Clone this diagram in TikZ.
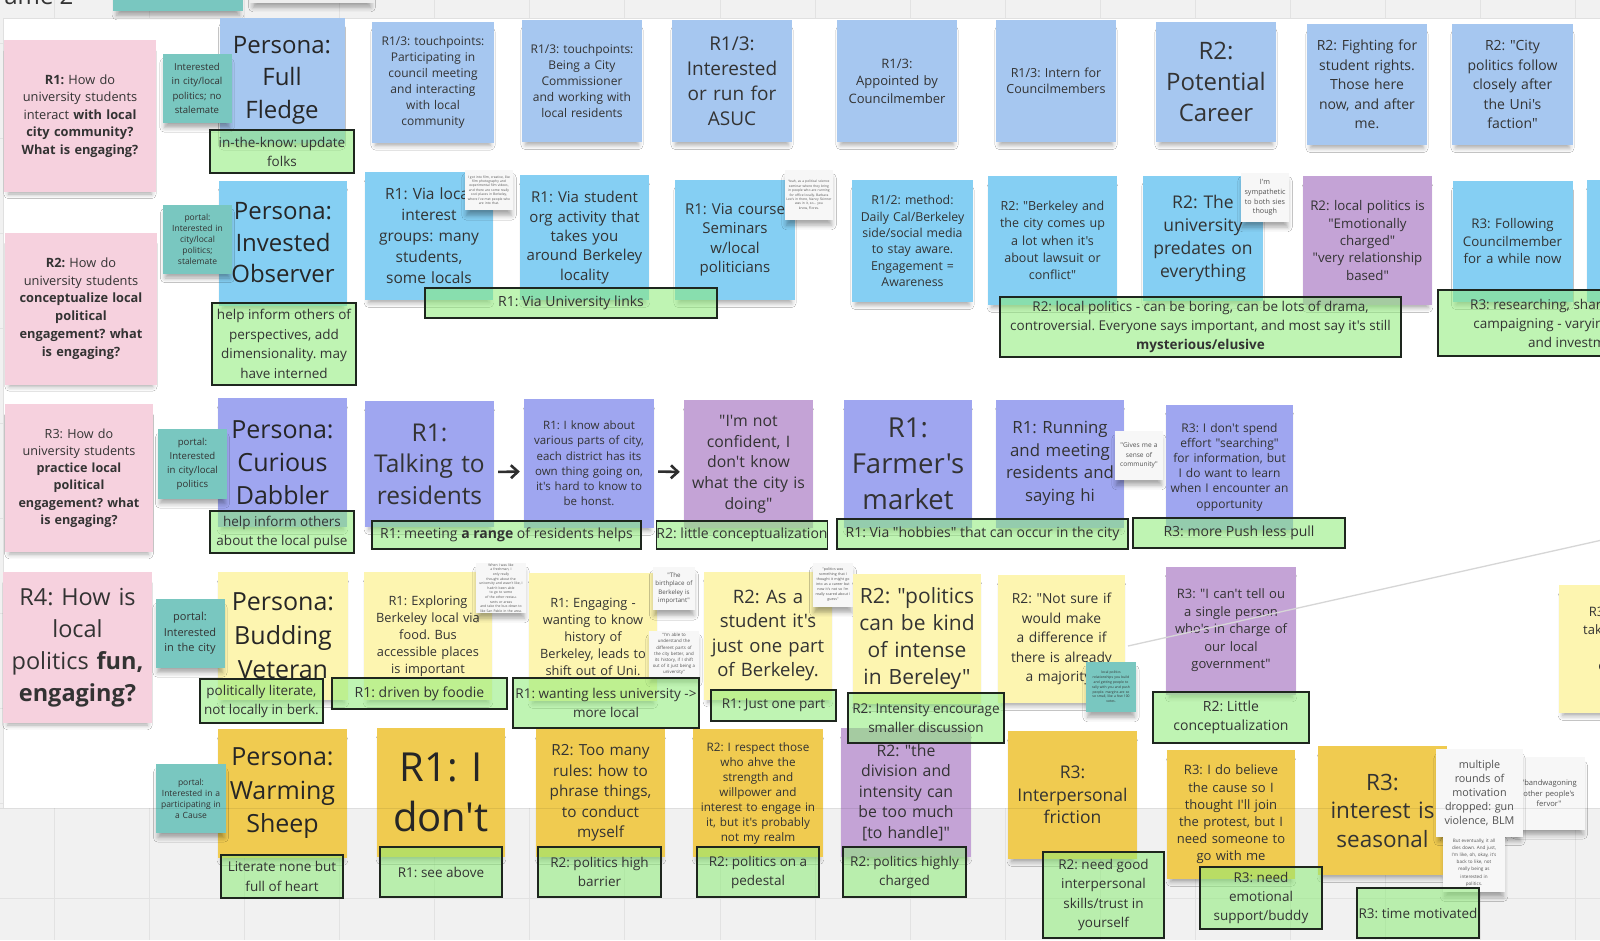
\documentclass[tikz,border=0pt]{standalone}
\usepackage{fontspec}
\setmainfont{Open Sans}[Ligatures=TeXOff]
\usepackage{tikz}
\usetikzlibrary{positioning,shadows.blur,arrows.meta}
\definecolor{board}{RGB}{241,241,241}
\definecolor{gridc}{RGB}{226,226,226}
\definecolor{ink}{RGB}{51,51,51}
\definecolor{pinkq}{RGB}{246,209,222}
\definecolor{tealp}{RGB}{121,199,192}
\definecolor{bluetop}{RGB}{166,199,240}
\definecolor{cyanmid}{RGB}{133,207,243}
\definecolor{notev}{RGB}{159,166,240}
\definecolor{purp}{RGB}{196,163,214}
\definecolor{lemon}{RGB}{253,245,176}
\definecolor{mustard}{RGB}{240,203,80}
\definecolor{paper}{RGB}{247,247,247}
\definecolor{greenl}{RGB}{140,236,118}
\definecolor{edgec}{RGB}{30,38,30}
\frenchspacing

\begin{document}
\begin{tikzpicture}[
    x=1pt, y=-1pt,
    sticky/.style={rectangle, inner sep=0pt, align=center, text=ink,
        minimum width=128pt, minimum height=128pt, text width=120pt,
        blur shadow={shadow xshift=0pt, shadow yshift=-7pt, shadow scale=0.94,
            shadow opacity=35, shadow blur radius=5pt}},
    question/.style={sticky, fill=pinkq, minimum width=152pt, minimum height=152pt, text width=148pt},
    portal/.style={sticky, fill=tealp, minimum width=69pt, minimum height=69pt, text width=66pt},
    aside/.style={sticky, fill=paper, minimum width=48pt, minimum height=48pt, text width=46pt, text=ink!85},
    persona/.style={sticky, text=black!85},
    finding/.style={rectangle, draw=edgec, line width=1.8pt, fill=greenl, fill opacity=0.55,
        text opacity=1, inner sep=0pt, align=center, text=ink},
    fs/.style 2 args={font=\fontsize{#1}{#2}\selectfont},
    flow/.style={-{Straight Barb[length=7pt,width=13pt]}, line width=2.6pt, draw=ink!90!black,
        shorten <=4pt, shorten >=4pt}
]
\useasboundingbox (0,0) rectangle (1600,940);
\clip (0,0) rectangle (1600,940);
\fill[board] (0,0) rectangle (1600,940);
\foreach \gx in {54,149.1,...,1650}
    \draw[gridc] (\gx,0) -- (\gx,940);
\foreach \gy in {898,803,...,0}
    \draw[gridc] (0,\gy) -- (1600,\gy);
\fill[white] (3,18) rectangle (1620,808);
\draw[black!12] (3,808) -- (3,18) -- (1620,18);

\node[fs={24}{28}, text=ink, anchor=base east] (frametitle) at (77,4) {Frame 2};
\node[sticky, fill=tealp, minimum width=130pt, minimum height=80pt] (topteal) at (178,-29) {};
\node[sticky, fill=black!7, minimum width=125pt, minimum height=80pt] (topnote) at (312,-37) {};

\node[question, fs={12.8}{17.6}] (rq1) at (80,116) {\textbf{R1:} How do\\university students\\interact \textbf{with local}\\\textbf{city community?}\\\textbf{What is engaging?}};
\node[persona, fill=bluetop, minimum width=125pt, minimum height=125pt, fs={24}{32.5}] (pe1) at (282,80) {Persona:\\Full\\Fledge};
\node[portal, fs={9.6}{14.5}] (po1) at (197,88.5) {Interested\\in city/local\\politics; no\\stalemate};
\node[sticky, fill=bluetop, minimum width=122pt, minimum height=121pt, fs={12}{16}] (tp1) at (433,82) {R1/3: touchpoints:\\Participating in\\council meeting\\and interacting\\with local\\community};
\node[sticky, fill=bluetop, minimum width=120pt, minimum height=122pt, fs={12}{16}] (tp2) at (582,81) {R1/3: touchpoints:\\Being a City\\Commissioner\\and working with\\local residents};
\node[sticky, fill=bluetop, minimum width=114pt, minimum height=122pt, fs={19}{25}] (tp3) at (732,81) {R1/3:\\Interested\\or run for\\ASUC};
\node[sticky, fill=bluetop, minimum width=120pt, minimum height=122pt, fs={13}{17.5}] (tp4) at (897,81) {R1/3:\\Appointed by\\Councilmember};
\node[sticky, fill=bluetop, minimum width=119pt, minimum height=122pt, fs={12.5}{16.5}] (tp5) at (1056,81) {R1/3: Intern for\\Councilmembers};
\node[sticky, fill=bluetop, minimum width=120pt, minimum height=120pt, fs={24}{31}] (tp6) at (1216,82) {R2:\\Potential\\Career};
\node[sticky, fill=bluetop, minimum width=120pt, minimum height=121pt, fs={14}{19.5}] (tp7) at (1367,84.5) {R2: Fighting for\\student rights.\\Those here\\now, and after\\me.};
\node[sticky, fill=bluetop, minimum width=121pt, minimum height=121pt, fs={14}{19.5}] (tp8) at (1512.5,84.5) {R2: "City\\politics follow\\closely after\\the Uni's\\faction"};

\node[question, fs={12.8}{17.8}] (rq2) at (81,308.5) {\textbf{R2:} How do\\university students\\\textbf{conceptualize local}\\\textbf{political}\\\textbf{engagement? what}\\\textbf{is engaging?}};
\node[persona, fill=cyanmid, minimum height=125pt, fs={24}{31.5}] (pe2) at (283,243) {Persona:\\Invested\\Observer};
\node[portal, fs={8.5}{11}] (po2) at (197.5,239) {portal:\\Interested in\\city/local\\politics;\\stalemate};
\node[sticky, fill=cyanmid, fs={15.5}{21}] (ch1) at (429,236) {R1: Via local\\interest\\groups: many\\students,\\some locals};
\node[aside, minimum height=40pt, fs={3.3}{4.4}] (as1) at (489,190) {I got into film, creative, like\\film photography and\\experimental film videos,\\and there are some really\\cool places in Berkeley,\\where I've met people who\\are into that.};
\node[sticky, fill=cyanmid, minimum width=129pt, minimum height=125pt, fs={15}{19.3}] (ch2) at (584.5,237.5) {R1: Via student\\org activity that\\takes you\\around Berkeley\\locality};
\node[sticky, fill=cyanmid, minimum width=118pt, minimum height=120pt, fs={15}{19.5}] (ch3) at (735,240) {R1: Via course\\Seminars\\w/local\\politicians};
\node[aside, minimum height=50pt, fs={3.3}{4.4}] (as2) at (809,195) {Yeah, as a political science\\seminar where they bring\\in people who are running\\for office locally. Barbara\\Lee's in there, Nancy Skinner\\was in it, so... you\\know, Flores.};
\node[sticky, fill=cyanmid, minimum width=121pt, minimum height=122pt, fs={12.3}{16.4}] (ch4) at (912.5,241) {R1/2: method:\\Daily Cal/Berkeley\\side/social media\\to stay aware.\\Engagement =\\Awareness};
\node[sticky, fill=cyanmid, minimum width=129pt, minimum height=129pt, fs={12.5}{17.3}] (ch5) at (1052.5,240.5) {R2: "Berkeley and\\the city comes up\\a lot when it's\\about lawsuit or\\conflict"};
\node[sticky, fill=cyanmid, minimum width=120pt, minimum height=125pt, fs={17.5}{23}] (ch6) at (1203,238) {R2: The\\university\\predates on\\everything};
\node[aside, minimum height=49pt, fs={7.2}{9.6}] (as3) at (1265,197.5) {I'm\\sympathetic\\to both sies\\though};
\node[sticky, fill=purp, minimum width=129pt, minimum height=129pt, fs={13.3}{17.3}] (pu1) at (1367.5,240.5) {R2: local politics is\\"Emotionally\\charged"\\"very relationship\\based"};
\node[sticky, fill=cyanmid, minimum width=119pt, minimum height=121pt, fs={13.3}{17.5}] (ch7) at (1512.5,241.5) {R3: Following\\Councilmember\\for a while now};
\node[sticky, fill=cyanmid, minimum height=122pt] (ch8) at (1651,241) {};

\node[question, minimum width=148pt, minimum height=148pt, fs={12.6}{17.2}] (rq3) at (79,478) {R3: How do\\university students\\\textbf{practice local}\\\textbf{political}\\\textbf{engagement? what}\\\textbf{is engaging?}};
\node[persona, fill=notev, minimum width=129pt, minimum height=129pt, fs={25}{33}] (pe3) at (282.5,462.5) {Persona:\\Curious\\Dabbler};
\node[portal, minimum height=70pt, fs={9.6}{14}] (po3) at (192.5,464) {portal:\\Interested\\in city/local\\politics};
\node[sticky, fill=notev, minimum width=129pt, minimum height=126pt, fs={24.5}{31.5}] (ve1) at (429.5,464) {R1:\\Talking to\\residents};
\node[sticky, fill=notev, minimum width=130pt, minimum height=129pt, fs={11.5}{15.2}] (ve2) at (589,463.5) {R1: I know about\\various parts of city,\\each district has its\\own thing going on,\\it's hard to know to\\be honst.};
\node[sticky, fill=purp, minimum width=129pt, minimum height=128pt, fs={15.8}{20.7}] (pu2) at (748.5,464) {"I'm not\\confident, I\\don't know\\what the city is\\doing"};
\node[sticky, fill=notev, fs={27.5}{36}] (ve3) at (908,464) {R1:\\Farmer's\\market};
\node[sticky, fill=notev, fs={16.8}{22.5}] (ve4) at (1060,463.5) {R1: Running\\and meeting\\residents and\\saying hi};
\node[aside, minimum height=49pt, fs={6.6}{9.5}] (as4) at (1139,455.5) {"Gives me a\\sense of\\community"};
\node[sticky, fill=notev, minimum width=127pt, minimum height=125pt, fs={12}{15.2}] (ve5) at (1229.5,467) {R3: I don't spend\\effort "searching"\\for information, but\\I do want to learn\\when I encounter an\\opportunity};

\node[question, minimum width=149pt, minimum height=151pt, fs={23.5}{32}] (rq4) at (77.5,647.5) {R4: How is\\local\\politics \textbf{fun,}\\\textbf{engaging?}};
\node[persona, fill=lemon, minimum width=130pt, fs={25}{34}] (ye1) at (283,636) {Persona:\\Budding\\Veteran};
\node[portal, fs={11}{15.5}] (po4) at (190,633.5) {portal:\\Interested\\in the city};
\node[sticky, fill=lemon, fs={12.8}{17}] (ye2) at (428,636) {R1: Exploring\\Berkeley local via\\food. Bus\\accessible places\\is important};
\node[aside, minimum width=50pt, minimum height=50pt, fs={3.4}{4.6}] (as5) at (501,588) {When I was like a freshman, I\\only really thought about the\\university and wasn't like, I\\hadn't been able to go to some\\of the other restaurants or areas\\and take the bus down to\\like San Pablo in the area.};
\node[sticky, fill=lemon, fs={12.8}{17}] (ye3) at (593,637) {R1: Engaging -\\wanting to know\\history of\\Berkeley, leads to\\shift out of Uni.};
\node[aside, minimum width=42pt, minimum height=43pt, text width=42pt, fs={6.2}{8.5}] (as6) at (674,588.5) {"The\\birthplace of\\Berkeley is\\important"};
\node[aside, minimum width=50pt, minimum height=46pt, fs={4.4}{6.1}] (as7) at (674,654) {"I'm able to\\understand the\\different parts of\\the city better, and\\its history, if I shift\\out of it just being a\\university"};
\node[sticky, fill=lemon, fs={18.5}{24.5}] (ye4) at (768,635.5) {R2: As a\\student it's\\just one part\\of Berkeley.};
\node[aside, minimum width=40pt, minimum height=44pt, text width=40pt, fs={3.6}{5}] (as8) at (833,585) {"politics was\\something that I\\thought it might go\\into as a career but\\now it's not so I'm\\really scared about I\\guess"};
\node[sticky, fill=lemon, minimum height=130pt, fs={21}{27}] (ye5) at (917,639) {R2: "politics\\can be kind\\of intense\\in Bereley"};
\node[sticky, fill=lemon, minimum width=127pt, fs={13.8}{19.5}] (ye6) at (1061.5,639) {R2: "Not sure if\\would make\\a difference if\\there is already\\a majority"};
\node[portal, minimum width=50pt, minimum height=50pt, text width=48pt, fs={3.4}{4.8}] (po5) at (1111,687) {local politics\\relationships you build\\and getting people to\\rally with you and push\\people. margins are so\\so small, like a few 100\\votes.};
\node[sticky, fill=purp, minimum width=130pt, fs={13}{17.5}] (pu3) at (1231,630.5) {R3: "I can't tell ou\\a single person\\who's in charge of\\our local\\government"};
\node[sticky, fill=lemon, fs={13}{18}] (ye7) at (1623,649) {R3: I would\\take a bigger\\part if I\\can find\\things};

\node[persona, fill=mustard, minimum width=129pt, minimum height=129pt, fs={25}{33.5}] (mu1) at (282.5,793.5) {Persona:\\Warming\\Sheep};
\node[portal, minimum width=70pt, fs={8.5}{11}] (po6) at (191,798.5) {portal:\\Interested in a\\participating in\\a Cause};
\node[persona, fill=mustard, minimum height=129pt, fs={40}{50}] (mu2) at (441,792.5) {R1: I\\don't};
\node[sticky, fill=mustard, minimum width=129pt, fs={15.3}{20.5}] (mu3) at (600.5,793) {R2: Too many\\rules: how to\\phrase things,\\to conduct\\myself};
\node[sticky, fill=mustard, minimum width=130pt, fs={11.7}{15}] (mu4) at (758,793) {R2: I respect those\\who ahve the\\strength and\\willpower and\\interest to engage in\\it, but it's probably\\not my realm};
\node[sticky, fill=purp, minimum width=130pt, minimum height=129pt, fs={15.8}{20.5}] (pu4) at (906,792.5) {R2: "the\\division and\\intensity can\\be too much\\{}[to handle]"};
\node[sticky, fill=mustard, minimum width=129pt, fs={17.5}{22.5}] (mu5) at (1072.5,795) {R3:\\Interpersonal\\friction};
\node[sticky, fill=mustard, minimum height=129pt, fs={13}{17.2}] (mu6) at (1231,814.5) {R3: I do believe\\the cause so I\\thought I'll join\\the protest, but I\\need someone to\\go with me};
\node[sticky, fill=mustard, minimum width=129pt, minimum height=129pt, fs={22.5}{28.5}] (mu7) at (1382.5,810.5) {R3:\\interest is\\seasonal};
\node[aside, minimum width=72pt, minimum height=73pt, text width=70pt, fs={7.6}{10.5}] (as10) at (1549,793.5) {"bandwagoning\\other people's\\fervor"};
\node[aside, minimum width=87pt, minimum height=88pt, text width=85pt, fs={10.8}{14}] (as9) at (1479.5,793) {multiple\\rounds of\\motivation\\dropped: gun\\violence, BLM};
\node[aside, minimum width=62pt, minimum height=59pt, text width=60pt, fs={4.6}{7.2}] (as11) at (1474,862.5) {But eventually, it all\\dies down. And just,\\I'm like, oh, okay, it's\\back to like, not\\really being as\\interested in\\politics.};

\node[finding, minimum width=144pt, minimum height=43pt, fs={13.5}{19}] (fi1) at (282,151.5) {in-the-know: update\\folks};
\node[finding, minimum width=144pt, minimum height=82pt, fs={13.5}{19.5}] (fi2) at (284,344) {help inform others of\\perspectives, add\\dimensionality. may\\have interned};
\node[finding, minimum width=292pt, minimum height=30pt, fs={14}{18}] (fi3) at (571,303) {R1: Via University links};
\node[finding, minimum width=401pt, minimum height=60pt, fs={13.5}{19}] (fi4) at (1200.5,327) {R2: local politics - can be boring, can be lots of drama,\\controversial. Everyone says important, and most say it's still\\\textbf{mysterious/elusive}};
\node[finding, minimum width=278pt, minimum height=66pt, fs={13.5}{19}] (fi5) at (1577,323) {R3: researching, sharing the news,\\campaigning - varying by interest\\and investment};
\node[finding, minimum width=144pt, minimum height=42pt, fs={13.5}{19}] (fi6) at (282,532) {help inform others\\about the local pulse};
\node[finding, minimum width=269pt, minimum height=28pt, fs={14}{18}] (fi7) at (506.5,535) {R1: meeting \textbf{a range} of residents helps};
\node[finding, minimum width=170pt, minimum height=28pt, fs={14}{18}] (fi8) at (742,535) {R2: little conceptualization};
\node[finding, minimum width=291pt, minimum height=30pt, fs={14}{18}] (fi9) at (982.5,534) {R1: Via "hobbies" that can occur in the city};
\node[finding, minimum width=212pt, minimum height=30pt, fs={14}{18}] (fi10) at (1239,533) {R3: more Push less pull};
\node[finding, minimum width=123pt, minimum height=44pt, fs={13.5}{19}] (fi11) at (261.5,701) {politically literate,\\not locally in berk.};
\node[finding, minimum width=175pt, minimum height=31pt, fs={14}{18}] (fi12) at (419.5,693.5) {R1: driven by foodie};
\node[finding, minimum width=186pt, minimum height=50pt, fs={13.5}{19.5}] (fi13) at (606,703) {R1: wanting less university ->\\more local};
\node[finding, minimum width=125pt, minimum height=31pt, fs={13.5}{18}] (fi14) at (773.5,705.5) {R1: Just one part};
\node[finding, minimum width=156pt, minimum height=50pt, fs={13.5}{18.5}] (fi15) at (926,718) {R2: Intensity encourage\\smaller discussion};
\node[finding, minimum width=156pt, minimum height=51pt, fs={14}{19}] (fi16) at (1231,717.5) {R2: Little\\conceptualization};
\node[finding, minimum width=122pt, minimum height=43pt, fs={13.5}{19.5}] (fi17) at (282,876.5) {Literate none but\\full of heart};
\node[finding, minimum width=122pt, minimum height=50pt, fs={13.5}{18}] (fi18) at (441,872) {R1: see above};
\node[finding, minimum width=123pt, minimum height=50pt, fs={13.5}{19}] (fi19) at (599.5,872) {R2: politics high\\barrier};
\node[finding, minimum width=122pt, minimum height=50pt, fs={13.5}{19}] (fi20) at (758,872) {R2: politics on a\\pedestal};
\node[finding, minimum width=123pt, minimum height=50pt, fs={13.5}{19}] (fi21) at (904.5,872) {R2: politics highly\\charged};
\node[finding, minimum width=121pt, minimum height=86pt, fs={13.5}{19.3}] (fi22) at (1103.5,895) {R2: need good\\interpersonal\\skills/trust in\\yourself};
\node[finding, minimum width=122pt, minimum height=62pt, fs={13.5}{19}] (fi23) at (1261,898) {R3: need\\emotional\\support/buddy};
\node[finding, minimum width=122pt, minimum height=50pt, fs={13.5}{18}] (fi24) at (1418,913) {R3: time motivated};

\draw[flow] ([yshift=-8pt]ve1.east) -- ([yshift=-8pt]ve2.west);
\draw[flow] ([yshift=-8pt]ve2.east) -- ([yshift=-8pt]pu2.west);
\coordinate (linefrom) at (1128,646);
\coordinate (lineto) at (1620,536);
\draw[black!16, line width=1.3pt] (linefrom) -- (lineto);
\draw[black, opacity=0.08, line width=1pt] (0,808) -- (1600,808);
\end{tikzpicture}
\end{document}
